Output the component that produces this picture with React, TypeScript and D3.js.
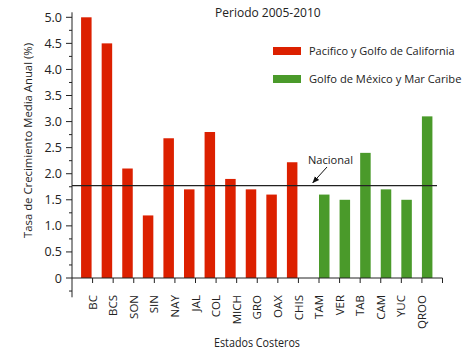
import React from "react";
import * as d3 from "d3";

const pacificStates = ["BC", "BCS", "SON", "SIN", "NAY", "JAL", "COL", "MICH", "GRO", "OAX", "CHIS"];
const pacificValues = [5.0, 4.5, 2.1, 1.2, 2.68, 1.7, 2.8, 1.9, 1.7, 1.6, 2.22];
const gulfStates = ["TAM", "VER", "TAB", "CAM", "YUC", "QROO"];
const gulfValues = [1.6, 1.5, 2.4, 1.7, 1.5, 3.1];
const nacionalValue = 1.77;
const yTickValues = [0, 0.5, 1, 1.5, 2, 2.5, 3, 3.5, 4, 4.5, 5];
const yMinorValues = [-0.25, 0.25, 0.75, 1.25, 1.75, 2.25, 2.75, 3.25, 3.75, 4.25, 4.75];
const legendLabels = ["Pacifico y Golfo de California", "Golfo de México y Mar Caribe"];
const titleText = "Periodo 2005-2010";
const yTitle = "Tasa de Crecimiento Media Anual (%)";
const xTitle = "Estados Costeros";
const nacionalLabel = "Nacional";

const RED = "#dc2000";
const GREEN = "#4a9a2a";
const FONT = "'Open Sans', sans-serif";
const TXT = "#222";

export default function App() {
  const W = 474;
  const H = 355;
  const categories = [...pacificStates, ...gulfStates];
  const nCat = categories.length;
  const x = d3.scaleLinear().domain([0, nCat + 1]).range([72, 442.5]);
  const y = d3.scaleLinear().domain([0, 5]).range([278, 17.3]);
  const yAxisBottom = y(-0.37);
  const barW = 10.5;
  const fmt = (d: number) => (d === 0 ? "0" : d3.format(".1f")(d));

  const bars = [
    ...pacificStates.map((s, i) => ({ s, v: pacificValues[i], idx: i + 1, g: 0 })),
    ...gulfStates.map((s, i) => ({ s, v: gulfValues[i], idx: pacificStates.length + i + 1, g: 1 })),
  ];

  const yN = y(nacionalValue);
  const tipX = x(11.7);
  const tipY = yN - 3;

  return (
    <svg width={W} height={H} style={{ position: "absolute", left: 0, top: 0, background: "#fff" }} fontFamily={FONT}>
      <defs>
        <marker id="arr" viewBox="0 0 10 10" refX="9" refY="5" markerWidth="7" markerHeight="7" orient="auto-start-reverse">
          <path d="M0,1 L10,5 L0,9 z" fill="#111" />
        </marker>
      </defs>
      {/* bars */}
      {bars.map((b) => {
        const t = x(b.idx);
        const x0 = b.g === 0 ? t - barW - 1 : t;
        return (
          <rect key={b.s} x={x0} y={y(b.v)} width={barW} height={y(0) - y(b.v)} fill={b.g === 0 ? RED : GREEN} />
        );
      })}
      {/* nacional line */}
      <line x1={72} x2={437} y1={yN} y2={yN} stroke="#222" strokeWidth={1.2} />
      {/* y axis */}
      <line x1={72} x2={72} y1={y(5) - 5} y2={yAxisBottom} stroke="#222" strokeWidth={1} />
      {yTickValues.map((d) => (
        <g key={d}>
          <line x1={66} x2={72} y1={y(d)} y2={y(d)} stroke="#222" />
          <text x={62} y={y(d)} dy="0.36em" textAnchor="end" fontSize={12.5} fill={TXT}>
            {fmt(d)}
          </text>
        </g>
      ))}
      {yMinorValues.map((d) => (
        <line key={d} x1={69} x2={72} y1={y(d)} y2={y(d)} stroke="#222" />
      ))}
      {/* x axis */}
      <line x1={72} x2={x(nCat + 1)} y1={y(0)} y2={y(0)} stroke="#222" />
      {d3.range(1, nCat + 2).map((i) => (
        <line key={i} x1={x(i)} x2={x(i)} y1={y(0)} y2={y(0) + 5} stroke="#222" />
      ))}
      {categories.map((c, i) => (
        <text
          key={c}
          transform={`translate(${x(i + 1)},295) rotate(-90)`}
          dy="0.36em"
          textAnchor="end"
          fontSize={11.5}
          fill={TXT}
        >
          {c}
        </text>
      ))}
      {/* titles */}
      <text x={215} y={17} fontSize={12} fill={TXT} textLength={105.7} lengthAdjust="spacingAndGlyphs">
        {titleText}
      </text>
      <text
        transform={`translate(28,140.5) rotate(-90)`}
        x={-97.5}
        dy="0.35em"
        fontSize={11.4}
        fill={TXT}
        textLength={195}
        lengthAdjust="spacingAndGlyphs"
      >
        {yTitle}
      </text>
      <text x={214} y={343} dy="0.35em" fontSize={12} fill={TXT} textLength={86} lengthAdjust="spacingAndGlyphs">
        {xTitle}
      </text>
      {/* legend */}
      {legendLabels.map((l, i) => (
        <g key={l} transform={`translate(273,${47 + i * 28})`}>
          <rect x={0} y={0} width={28} height={8} fill={i === 0 ? RED : GREEN} />
          <text
            x={36}
            y={4}
            dy="0.36em"
            fontSize={11.2}
            fill={TXT}
            textLength={i === 0 ? 145.7 : 152.4}
            lengthAdjust="spacingAndGlyphs"
          >
            {l}
          </text>
        </g>
      ))}
      {/* annotation */}
      <text x={308} y={160} dy="0.36em" fontSize={11.5} fill={TXT} textLength={45} lengthAdjust="spacingAndGlyphs">
        {nacionalLabel}
      </text>
      <line x1={327} y1={167} x2={tipX} y2={tipY} stroke="#111" strokeWidth={1} markerEnd="url(#arr)" />
    </svg>
  );
}
